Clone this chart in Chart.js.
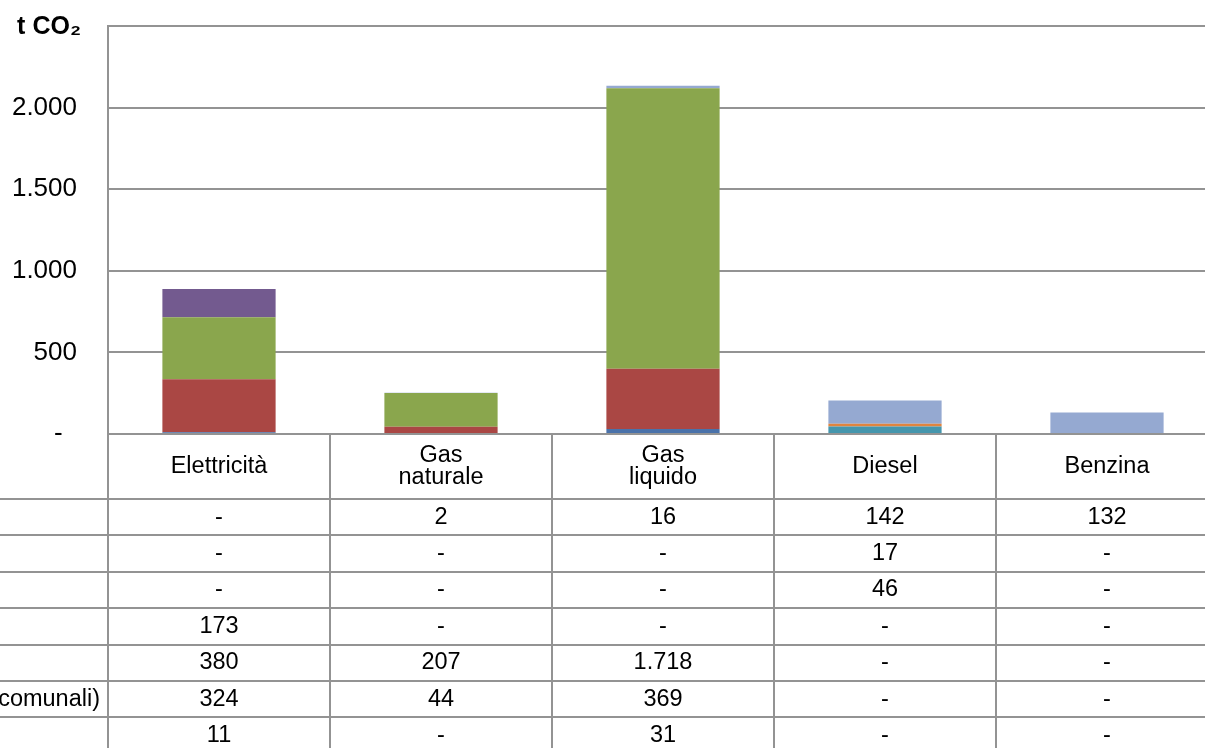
<!DOCTYPE html>
<html>
<head>
<meta charset="utf-8">
<script src="https://cdn.jsdelivr.net/npm/chart.js@4"></script>
<style>
  html, body { margin: 0; padding: 0; background: #fff; overflow: hidden; }
  #wrap { position: relative; width: 1218px; height: 748px; }
</style>
</head>
<body>
<div id="wrap"><canvas id="myChart"></canvas></div>
<script>
const categories = [["Elettricità"], ["Gas", "naturale"], ["Gas", "liquido"], ["Diesel"], ["Benzina"]];
const yTicks = [0, 500, 1000, 1500, 2000, 2500];

// series, bottom of the stack first
const seriesNames = [
  "Edifici, attrezzature/impianti comunali",
  "Edifici, attrezzature/impianti terziari (non comunali)",
  "Edifici residenziali",
  "Illuminazione pubblica comunale",
  "Parco auto comunale",
  "Trasporti pubblici",
  "Trasporti privati e commerciali"
];
const comunali = [11, null, 31, null, null];
const terziari = [324, 44, 369, null, null];
const residenziali = [380, 207, 1718, null, null];
const illuminazione = [173, null, null, null, null];
const parcoAuto = [null, null, null, 46, null];
const trasportiPubblici = [null, null, null, 17, null];
const trasportiPrivati = [null, 2, 16, 142, 132];

const seriesValues = [comunali, terziari, residenziali, illuminazione, parcoAuto, trasportiPubblici, trasportiPrivati];
const seriesColors = ["#4a72aa", "#aa4744", "#8aa64d", "#735a8f", "#4596ad", "#e0843e", "#95a9d1"];

const FONT = "'Liberation Sans', Arial, sans-serif";
const LINE = "#939393";

function fmt(v) {
  if (v === null || v === 0) return "-";
  return String(v).replace(/\B(?=(\d{3})+(?!\d))/g, ".");
}

const tablePlugin = {
  id: "dataTable",
  afterDraw(chart) {
    const ctx = chart.ctx;
    const ca = chart.chartArea;
    const xs = chart.scales.x;
    const headerH = 65;
    const rowH = 36.4;
    const half = (xs.getPixelForValue(1) - xs.getPixelForValue(0)) / 2;
    const bottom = chart.height;
    const nRows = seriesValues.length;

    ctx.save();
    ctx.strokeStyle = LINE;
    ctx.lineWidth = 2;

    // horizontal lines of the table
    for (let r = 0; r <= nRows; r++) {
      const y = Math.round(ca.bottom + headerH + r * rowH);
      ctx.beginPath();
      ctx.moveTo(0, y);
      ctx.lineTo(chart.width, y);
      ctx.stroke();
    }
    // vertical lines
    ctx.beginPath();
    ctx.moveTo(ca.left, ca.top);
    ctx.lineTo(ca.left, bottom);
    ctx.stroke();
    categories.forEach((c, i) => {
      const x = Math.round(xs.getPixelForValue(i) + half);
      ctx.beginPath();
      ctx.moveTo(x, ca.bottom);
      ctx.lineTo(x, bottom);
      ctx.stroke();
    });

    ctx.fillStyle = "#000";
    ctx.font = "23.5px " + FONT;
    ctx.textAlign = "center";
    ctx.textBaseline = "middle";

    // header: category names
    categories.forEach((lines, i) => {
      const x = xs.getPixelForValue(i);
      const mid = ca.bottom + headerH / 2;
      const lh = 22;
      lines.forEach((t, k) => {
        ctx.fillText(t, x, mid + (k - (lines.length - 1) / 2) * lh);
      });
    });

    // rows: top of the stack first
    let maxW = 0;
    seriesNames.forEach(n => { maxW = Math.max(maxW, ctx.measureText(n).width); });
    for (let r = 0; r < nRows; r++) {
      const s = nRows - 1 - r;
      const y = ca.bottom + headerH + r * rowH + rowH / 2;
      ctx.textAlign = "center";
      seriesValues[s].forEach((v, i) => {
        ctx.fillText(fmt(v), xs.getPixelForValue(i), y);
      });
      ctx.textAlign = "left";
      ctx.fillText(seriesNames[s], ca.left - 8 - maxW, y);
    }

    // unit title at the top of the value axis
    ctx.font = "bold 25px " + FONT;
    ctx.textAlign = "right";
    ctx.fillText("t CO₂", 81, ca.top + 1);
    ctx.restore();
  }
};

const ctx = document.getElementById("myChart").getContext("2d");

const myChart = new Chart(ctx, {
  type: "bar",
  data: {
    labels: categories,
    datasets: seriesNames.map((name, i) => ({
      label: name,
      data: seriesValues[i],
      backgroundColor: seriesColors[i],
      borderWidth: 0,
      categoryPercentage: 1,
      barPercentage: 0.51
    }))
  },
  options: {
    responsive: true,
    maintainAspectRatio: false,
    animation: false,
    layout: { padding: { top: 26, right: 0, bottom: 314, left: 0 } },
    plugins: {
      legend: { display: false },
      tooltip: { enabled: false }
    },
    scales: {
      x: {
        stacked: true,
        display: false
      },
      y: {
        stacked: true,
        min: 0,
        max: 2500,
        afterFit(scale) {
          scale.width = 108;
          scale.paddingTop = 0;
          scale.paddingBottom = 0;
        },
        afterBuildTicks(scale) { scale.ticks = yTicks.map(v => ({ value: v })); },
        border: { color: LINE, width: 2 },
        grid: { color: LINE, lineWidth: 2, drawTicks: false },
        ticks: {
          padding: 31,
          color: "#000",
          font: { family: FONT, size: 26 },
          callback: v => v === 2500 ? "" : (v === 0 ? "-  " : fmt(v))
        }
      }
    }
  },
  plugins: [tablePlugin]
});
</script>
</body>
</html>
